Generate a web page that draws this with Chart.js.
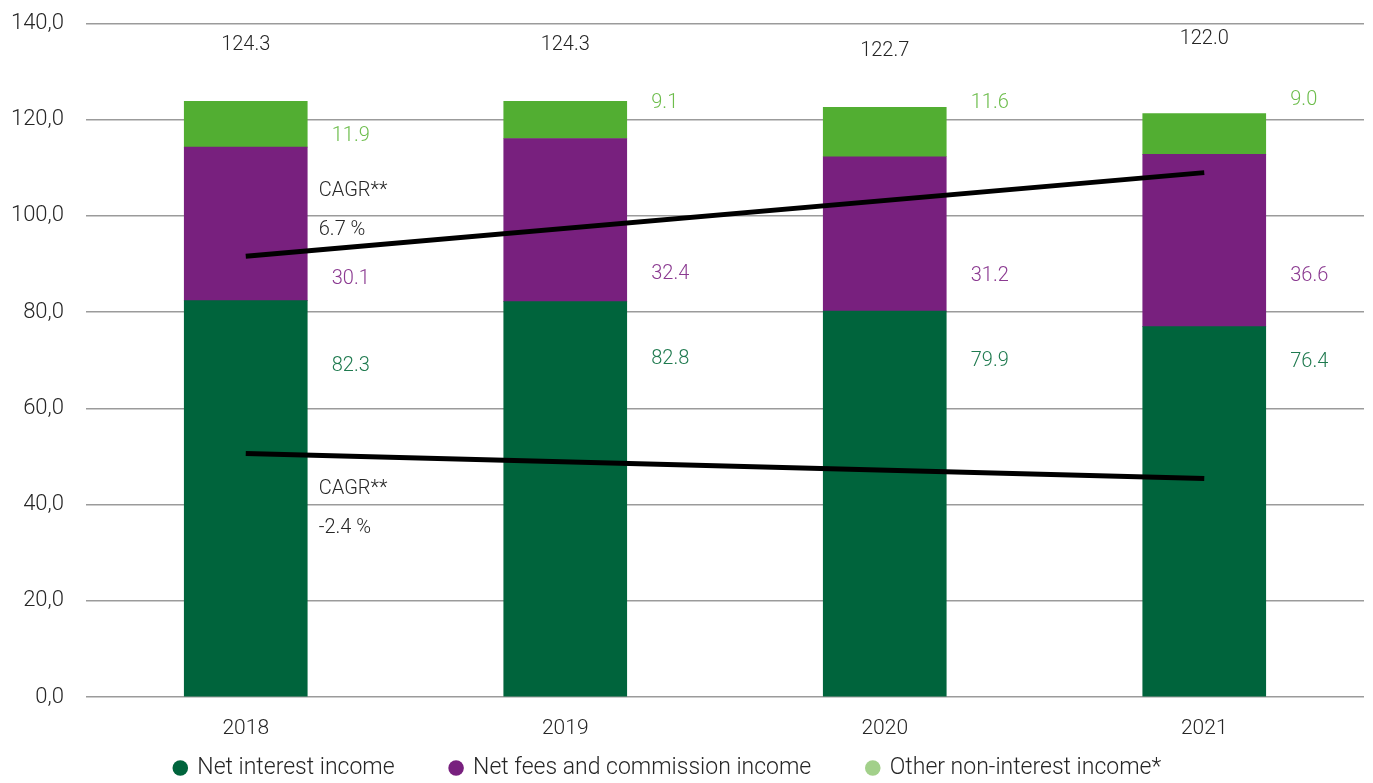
<!DOCTYPE html>
<html>
<head>
<meta charset="utf-8">
<script src="https://cdn.jsdelivr.net/npm/chart.js@4.4.0/dist/chart.umd.min.js"></script>
<style>
  html, body { margin: 0; padding: 0; background: #fff; }
  #wrap { width: 1373px; height: 783px; }
</style>
</head>
<body>
<div id="wrap"><canvas id="myChart"></canvas></div>
<script>
// years on the x axis
const years = ['2018', '2019', '2020', '2021'];

// bar segments as drawn
const interestIncome = [82.4, 82.2, 80.2, 77.0];
const feesIncome = [31.9, 33.9, 32.1, 35.8];
const otherIncome = [9.5, 7.7, 10.3, 8.5];

// printed labels
const interestLabels = ['82.3', '82.8', '79.9', '76.4'];
const feesLabels = ['30.1', '32.4', '31.2', '36.6'];
const otherLabels = ['11.9', '9.1', '11.6', '9.0'];
const totalLabels = ['124.3', '124.3', '122.7', '122.0'];

// CAGR trend lines (start 2018, end 2021)
const cagrTotal = [91.6, null, null, 109.0];
const cagrInterest = [50.6, null, null, 45.4];
const cagrTotalText = ['CAGR**', '6.7 %'];
const cagrInterestText = ['CAGR**', '-2.4 %'];

const seriesNames = ['Net interest income', 'Net fees and commission income', 'Other non-interest income*'];
const yTicks = [0, 20, 40, 60, 80, 100, 120, 140];

const FONT = 'Roboto, "Liberation Sans", sans-serif';
const TEXT = '#262626';

//Plugin para escribir las etiquetas de valores
const valueLabels = {
    id: 'valueLabels',
    afterInit(chart) {
        // la leyenda ocupa menos alto que su padding y va un poco a la izquierda
        const lg = chart.legend;
        const fit = lg.fit;
        const drawItems = lg._draw;
        lg.fit = function () { fit.call(this); this.height = 42; };
        lg._draw = function () {
            const t = this.top, l = this.left, r = this.right;
            this.top -= 40.5; this.left -= 14; this.right -= 14;
            drawItems.call(this);
            this.top = t; this.left = l; this.right = r;
        };
    },
    afterDatasetsDraw(chart) {
        const ctx = chart.ctx;
        const x = chart.scales.x;
        const y = chart.scales.y;
        // label heights in value units, as placed on the original
        const totalAt = [135.6, 135.6, 134.2, 136.7];
        const otherAt = [116.7, 123.5, 123.5, 124.0];
        const feesAt = [86.8, 88.0, 87.6, 87.6];
        const interestAt = [68.9, 70.2, 69.8, 69.6];

        ctx.save();
        ctx.font = '300 20px ' + FONT;
        ctx.textBaseline = 'middle';
        years.forEach(function (yr, i) {
            const cx = x.getPixelForValue(i);
            ctx.textAlign = 'center';
            ctx.fillStyle = TEXT;
            ctx.fillText(totalLabels[i], cx, y.getPixelForValue(totalAt[i]));

            ctx.textAlign = 'left';
            const lx = cx + 86;
            ctx.fillStyle = '#6dbd4c';
            ctx.fillText(otherLabels[i], lx, y.getPixelForValue(otherAt[i]));
            ctx.fillStyle = '#8b3a91';
            ctx.fillText(feesLabels[i], lx, y.getPixelForValue(feesAt[i]));
            ctx.fillStyle = '#1f7a4f';
            ctx.fillText(interestLabels[i], lx, y.getPixelForValue(interestAt[i]));
        });

        const x0 = x.getPixelForValue(0) + 73;
        ctx.fillStyle = TEXT;
        ctx.fillText(cagrTotalText[0], x0, y.getPixelForValue(105.1));
        ctx.fillText(cagrTotalText[1], x0, y.getPixelForValue(97.0));
        ctx.fillText(cagrInterestText[0], x0, y.getPixelForValue(43.3));
        ctx.fillText(cagrInterestText[1], x0, y.getPixelForValue(35.2));
        ctx.restore();
    }
};

const legendColors = ['#00643c', '#78207e', '#a2d08a'];

const ctx = document.getElementById('myChart').getContext('2d');
const myChart = new Chart(ctx, {
    type: 'bar',
    data: {
        labels: years,
        datasets: [
            { label: seriesNames[0], data: interestIncome, backgroundColor: '#00643c', stack: 'bars', order: 2 },
            { label: seriesNames[1], data: feesIncome, backgroundColor: '#78207e', stack: 'bars', order: 2 },
            { label: seriesNames[2], data: otherIncome, backgroundColor: '#52ae32', stack: 'bars', order: 2 },
            {
                type: 'line', label: 'cagr1', data: cagrTotal, stack: 'l1', order: 0,
                borderColor: '#000', borderWidth: 5, pointRadius: 0, spanGaps: true, fill: false
            },
            {
                type: 'line', label: 'cagr2', data: cagrInterest, stack: 'l2', order: 0,
                borderColor: '#000', borderWidth: 5, pointRadius: 0, spanGaps: true, fill: false
            }
        ]
    },
    options: {
        responsive: true,
        maintainAspectRatio: false,
        animation: false,
        layout: { padding: { top: 23.5, right: 9, left: 0, bottom: 0 } },
        datasets: { bar: { barThickness: 123 } },
        plugins: {
            tooltip: { enabled: false },
            legend: {
                position: 'bottom',
                labels: {
                    usePointStyle: true,
                    pointStyle: 'circle',
                    boxWidth: 11,
                    boxHeight: 11,
                    padding: 56,
                    color: TEXT,
                    font: { family: FONT, size: 23, weight: '300' },
                    generateLabels: function (chart) {
                        return seriesNames.map(function (name, i) {
                            return {
                                text: name, fillStyle: legendColors[i], strokeStyle: legendColors[i],
                                lineWidth: 0, pointStyle: 'circle', datasetIndex: i, fontColor: TEXT
                            };
                        });
                    }
                }
            }
        },
        scales: {
            x: {
                stacked: true,
                grid: { display: false },
                border: { display: false },
                afterFit: function (scale) { scale.height = 44; },
                ticks: { color: TEXT, font: { family: FONT, size: 21, weight: '300' }, padding: 11 }
            },
            y: {
                stacked: true,
                min: 0,
                max: 140,
                afterBuildTicks: function (scale) {
                    scale.ticks = yTicks.map(function (v) { return { value: v }; });
                },
                afterFit: function (scale) { scale.width = 86; },
                grid: { color: '#9b9b9b', lineWidth: 1.5, drawTicks: true, tickLength: 22, tickColor: 'rgba(0,0,0,0)' },
                border: { display: false },
                ticks: {
                    color: TEXT,
                    font: { family: FONT, size: 22, weight: '300' },
                    padding: 0,
                    callback: function (v) { return v.toFixed(1).replace('.', ','); }
                }
            }
        }
    },
    plugins: [valueLabels]
});
</script>
</body>
</html>
